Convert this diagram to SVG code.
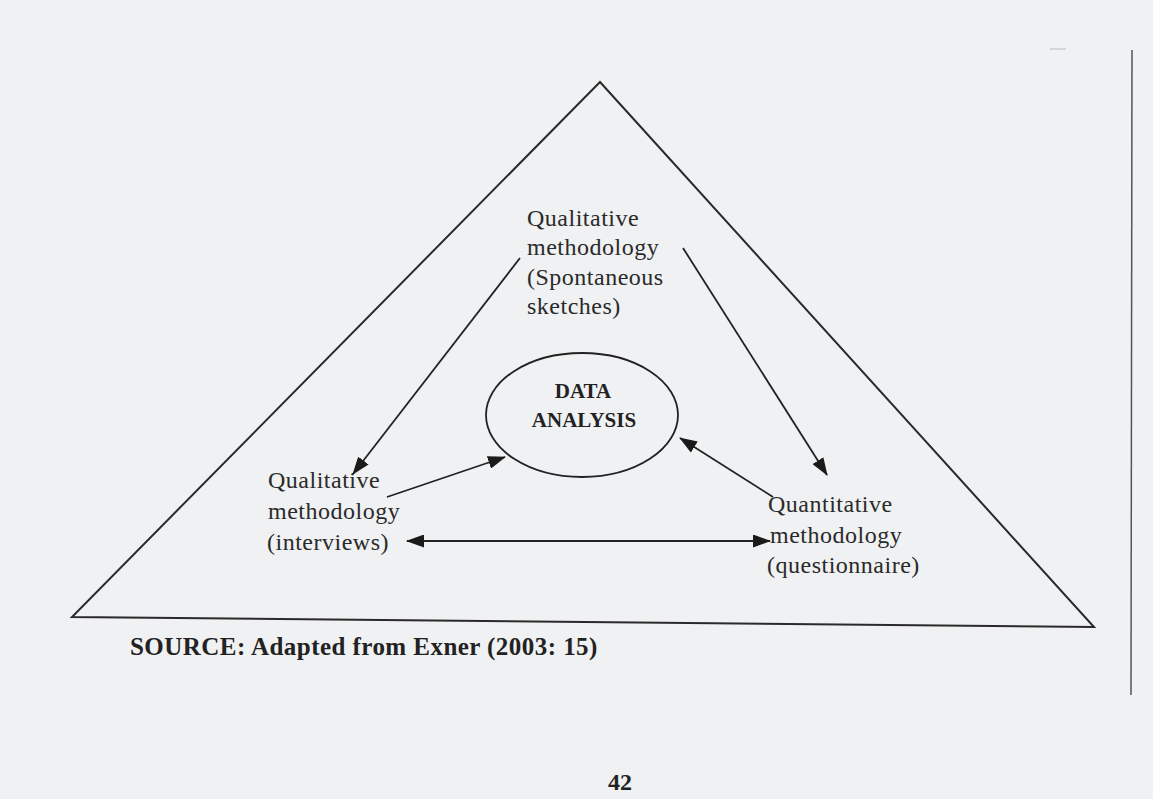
<svg xmlns="http://www.w3.org/2000/svg" width="1153" height="799" viewBox="0 0 1153 799">
  <defs>
    <style>
      .lbl { font-family: "Liberation Serif", "Times New Roman", serif; font-size: 24px; letter-spacing: 0.5px; fill: #2a2a2a; }
      .bold { font-family: "Liberation Serif", "Times New Roman", serif; font-weight: bold; fill: #222; }
      .edge { stroke: #222; stroke-width: 1.8; fill: none; }
    </style>
    <marker id="ah" markerUnits="userSpaceOnUse" markerWidth="18" markerHeight="13" refX="17" refY="6.5" orient="auto-start-reverse">
      <path d="M0,0 L18,6.5 L0,13 z" fill="#1a1a1a"/>
    </marker>
  </defs>
  <rect width="1153" height="799" fill="#f0f1f3"/>

  <!-- scan artefacts -->
  <line x1="1132" y1="50" x2="1131" y2="695" stroke="#555" stroke-width="1.5"/>
  <line x1="1050" y1="49" x2="1066" y2="49" stroke="#bbb" stroke-width="1"/>

  <g id="triangle">
    <polygon points="600,82 1094,627 72,617" fill="none" stroke="#2a2a2a" stroke-width="2"/>
  </g>

  <g id="data-analysis">
    <ellipse cx="582" cy="415" rx="96" ry="62" fill="none" stroke="#222" stroke-width="1.8"/>
    <text class="bold" font-size="21" x="583" y="398" text-anchor="middle">DATA</text>
    <text class="bold" font-size="21" x="584" y="427" text-anchor="middle">ANALYSIS</text>
  </g>

  <g id="qual-sketches">
    <text class="lbl" x="527" y="226">Qualitative</text>
    <text class="lbl" x="527" y="255">methodology</text>
    <text class="lbl" x="527" y="285">(Spontaneous</text>
    <text class="lbl" x="527" y="314">sketches)</text>
  </g>

  <g id="qual-interviews">
    <text class="lbl" x="268" y="488">Qualitative</text>
    <text class="lbl" x="268" y="519">methodology</text>
    <text class="lbl" x="267" y="550">(interviews)</text>
  </g>

  <g id="quant-questionnaire">
    <text class="lbl" x="768" y="512">Quantitative</text>
    <text class="lbl" x="770" y="543">methodology</text>
    <text class="lbl" x="767" y="573">(questionnaire)</text>
  </g>

  <g id="connectors">
    <line class="edge" x1="520" y1="258" x2="353" y2="474" marker-end="url(#ah)"/>
    <line class="edge" x1="683" y1="248" x2="827" y2="475" marker-end="url(#ah)"/>
    <line class="edge" x1="387" y1="497" x2="505" y2="457" marker-end="url(#ah)"/>
    <line class="edge" x1="773" y1="497" x2="680" y2="438" marker-end="url(#ah)"/>
    <line class="edge" x1="407" y1="541" x2="770" y2="541" marker-start="url(#ah)" marker-end="url(#ah)"/>
  </g>

  <g id="source">
    <text class="bold" font-size="25" letter-spacing="0.45" x="130" y="655">SOURCE: Adapted from Exner (2003: 15)</text>
  </g>

  <g id="page-number">
    <text font-family="Liberation Serif, serif" font-weight="bold" font-size="24" fill="#222" x="608" y="790">42</text>
  </g>
</svg>
